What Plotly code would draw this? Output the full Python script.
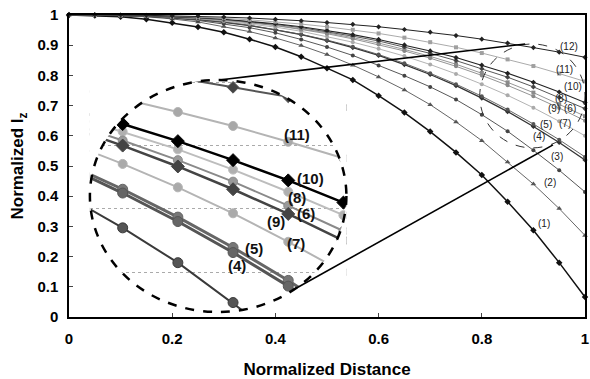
import plotly.graph_objects as go

# ---------------- data ----------------
x_dist = [0.00, 0.05, 0.10, 0.15, 0.20, 0.25, 0.30, 0.35, 0.40, 0.45, 0.50,
          0.55, 0.60, 0.65, 0.70, 0.75, 0.80, 0.85, 0.90, 0.95, 1.00]

iz_1 = [1.000, 0.998, 0.994, 0.986, 0.974, 0.960, 0.943, 0.920, 0.894, 0.862, 0.824,
        0.785, 0.733, 0.677, 0.614, 0.545, 0.470, 0.382, 0.287, 0.180, 0.066]
iz_2 = [1.000, 1.000, 0.998, 0.994, 0.987, 0.977, 0.962, 0.945, 0.924, 0.899, 0.869,
        0.834, 0.795, 0.752, 0.703, 0.646, 0.584, 0.513, 0.440, 0.359, 0.270]
iz_3 = [1.000, 1.000, 0.998, 0.995, 0.990, 0.982, 0.971, 0.958, 0.941, 0.919, 0.894,
        0.866, 0.833, 0.799, 0.762, 0.720, 0.670, 0.615, 0.552, 0.486, 0.414]
iz_4 = [1.000, 1.000, 0.998, 0.996, 0.991, 0.985, 0.976, 0.965, 0.951, 0.935, 0.915,
        0.892, 0.866, 0.836, 0.803, 0.766, 0.725, 0.680, 0.631, 0.578, 0.520]
iz_5 = [1.000, 1.000, 0.998, 0.996, 0.992, 0.985, 0.977, 0.966, 0.952, 0.936, 0.917,
        0.895, 0.869, 0.840, 0.807, 0.771, 0.731, 0.687, 0.639, 0.587, 0.530]
iz_6 = [1.000, 1.000, 0.999, 0.997, 0.994, 0.989, 0.983, 0.976, 0.966, 0.954, 0.941,
        0.925, 0.907, 0.886, 0.863, 0.837, 0.808, 0.777, 0.743, 0.705, 0.665]
iz_7 = [1.000, 1.000, 0.999, 0.997, 0.993, 0.988, 0.980, 0.971, 0.960, 0.946, 0.929,
        0.910, 0.888, 0.864, 0.836, 0.805, 0.771, 0.734, 0.693, 0.648, 0.600]
iz_8 = [1.000, 1.000, 0.999, 0.997, 0.994, 0.990, 0.985, 0.978, 0.969, 0.958, 0.945,
        0.930, 0.914, 0.894, 0.873, 0.849, 0.822, 0.794, 0.762, 0.727, 0.690]
iz_9 = [1.000, 1.000, 0.999, 0.997, 0.994, 0.989, 0.983, 0.975, 0.965, 0.952, 0.938,
        0.921, 0.902, 0.881, 0.857, 0.830, 0.800, 0.767, 0.731, 0.692, 0.650]
iz_10 = [1.000, 1.000, 0.999, 0.997, 0.995, 0.991, 0.986, 0.979, 0.971, 0.961, 0.949,
         0.935, 0.919, 0.901, 0.881, 0.859, 0.834, 0.807, 0.777, 0.745, 0.710]
iz_11 = [1.000, 1.000, 0.999, 0.998, 0.996, 0.993, 0.989, 0.984, 0.978, 0.970, 0.961,
         0.951, 0.939, 0.925, 0.910, 0.893, 0.874, 0.853, 0.831, 0.806, 0.780]
iz_12 = [1.000, 1.000, 1.000, 0.999, 0.997, 0.996, 0.993, 0.990, 0.986, 0.981, 0.975,
         0.969, 0.961, 0.952, 0.943, 0.932, 0.920, 0.907, 0.892, 0.877, 0.860]

curve_labels = ["(1)", "(2)", "(3)", "(4)", "(5)", "(6)",
                "(7)", "(8)", "(9)", "(10)", "(11)", "(12)"]
x_ticks = [0, 0.2, 0.4, 0.6, 0.8, 1.0]

series = {1: iz_1, 2: iz_2, 3: iz_3, 4: iz_4, 5: iz_5, 6: iz_6,
          7: iz_7, 8: iz_8, 9: iz_9, 10: iz_10, 11: iz_11, 12: iz_12}
inset_start = 15  # inset shows x >= 0.75

# ---------------- styles ----------------
main_style = {
    1: ("#111111", 1.5, "diamond", 5),
    2: ("#555555", 0.9, "triangle-up", 5),
    3: ("#444444", 0.9, "circle", 4),
    4: ("#333333", 1.3, "diamond", 4),
    5: ("#555555", 0.9, "circle", 4),
    6: ("#8a8a8a", 0.9, "square", 4),
    7: ("#aaaaaa", 0.9, "circle", 4),
    8: ("#444444", 0.9, "diamond", 4),
    9: ("#888888", 0.9, "circle", 4),
    10: ("#222222", 1.1, "diamond", 4),
    11: ("#a0a0a0", 0.9, "square", 4),
    12: ("#222222", 1.0, "diamond", 4),
}
inset_style = {
    3: ("#3a3a3a", 2.0, "circle", 10, "#555555"),
    4: ("#555555", 3.0, "circle", 10, "#666666"),
    5: ("#666666", 3.0, "circle", 10, "#777777"),
    6: ("#8a8a8a", 2.0, "circle", 9, "#999999"),
    7: ("#b4b4b4", 2.0, "circle", 9, "#aaaaaa"),
    8: ("#bdbdbd", 2.0, "circle", 9, "#b0b0b0"),
    9: ("#444444", 2.5, "diamond", 10, "#444444"),
    10: ("#000000", 2.5, "diamond", 10, "#000000"),
    11: ("#b4b4b4", 2.0, "circle", 9, "#a8a8a8"),
    12: ("#555555", 2.0, "diamond", 9, "#444444"),
}

fig = go.Figure()

# main curves
for k in range(1, 13):
    c, w, sym, sz = main_style[k]
    fig.add_trace(go.Scatter(
        x=x_dist, y=series[k], mode="lines+markers", name=curve_labels[k - 1],
        line=dict(color=c, width=w),
        marker=dict(symbol=sym, size=sz, color=c),
        cliponaxis=False, xaxis="x", yaxis="y", showlegend=False))

# inset (magnified) curves, light ones first
inset_order = [11, 8, 7, 6, 12, 3, 5, 4, 9, 10]
for k in inset_order:
    c, w, sym, sz, mc = inset_style[k]
    fig.add_trace(go.Scatter(
        x=x_dist[inset_start:], y=series[k][inset_start:], mode="lines+markers",
        line=dict(color=c, width=w),
        marker=dict(symbol=sym, size=sz, color=mc, line=dict(color=c, width=1)),
        xaxis="x2", yaxis="y2", showlegend=False))

# ---------------- layout geometry ----------------
bx0, bx1 = 0.0405, 0.5376   # inset box (main-axis units == paper units)
by0, by1 = 0.0166, 0.7848
cx, cy = (bx0 + bx1) / 2, (by0 + by1) / 2
rx, ry = (bx1 - bx0) / 2, (by1 - by0) / 2
kk = 0.5523

mask_path = (
    f"M {bx0},{by0} L {bx1},{by0} L {bx1},{by1} L {bx0},{by1} Z "
    f"M {cx+rx},{cy} "
    f"C {cx+rx},{cy-kk*ry} {cx+kk*rx},{cy-ry} {cx},{cy-ry} "
    f"C {cx-kk*rx},{cy-ry} {cx-rx},{cy-kk*ry} {cx-rx},{cy} "
    f"C {cx-rx},{cy+kk*ry} {cx-kk*rx},{cy+ry} {cx},{cy+ry} "
    f"C {cx+kk*rx},{cy+ry} {cx+rx},{cy+kk*ry} {cx+rx},{cy} Z"
)

shapes = [
    dict(type="path", path=mask_path, xref="x", yref="y", fillcolor="white",
         line=dict(width=0), fillrule="evenodd", layer="above"),
    dict(type="circle", xref="x", yref="y", x0=bx0, x1=bx1, y0=by0, y1=by1,
         line=dict(color="black", width=2.5, dash="dash"), layer="above"),
    dict(type="circle", xref="x", yref="y", x0=0.796, x1=1.0, y0=0.560, y1=0.904,
         line=dict(color="#333333", width=1, dash="dash"), layer="above"),
    dict(type="line", xref="x", yref="y", x0=0.291, y0=0.785, x1=0.884, y1=0.904,
         line=dict(color="black", width=1.6), layer="above"),
    dict(type="line", xref="x", yref="y", x0=0.441, y0=0.096, x1=0.938, y1=0.570,
         line=dict(color="black", width=1.6), layer="above"),
]

main_label_pos = {
    12: (0.969, 0.897), 11: (0.960, 0.818), 10: (0.977, 0.762), 8: (0.954, 0.725),
    9: (0.940, 0.689), 6: (0.971, 0.689), 7: (0.961, 0.642), 5: (0.925, 0.636),
    4: (0.911, 0.599), 3: (0.946, 0.530), 2: (0.933, 0.444), 1: (0.921, 0.311),
}
inset_label_pos = {
    11: (0.441, 0.603), 10: (0.468, 0.460), 8: (0.441, 0.397), 9: (0.401, 0.315),
    6: (0.460, 0.344), 7: (0.439, 0.242), 5: (0.358, 0.228), 4: (0.326, 0.169),
}
annotations = []
for k, (ax, ay) in main_label_pos.items():
    annotations.append(dict(x=ax, y=ay, xref="x", yref="y", text=curve_labels[k - 1],
                            showarrow=False,
                            font=dict(family="Liberation Sans", size=10, color="#222222")))
for k, (ax, ay) in inset_label_pos.items():
    annotations.append(dict(x=ax, y=ay, xref="x", yref="y", text=curve_labels[k - 1],
                            showarrow=False,
                            font=dict(family="Liberation Sans", size=15, color="#111111",
                                      weight="bold")))

tick_font = dict(family="Liberation Sans", size=15, color="black", weight="bold")
title_font = dict(family="Liberation Sans", size=17, color="black", weight="bold")

fig.update_layout(
    width=590, height=379,
    margin=dict(l=69, r=5, t=15, b=62, autoexpand=False),
    paper_bgcolor="white", plot_bgcolor="white",
    showlegend=False,
    shapes=shapes, annotations=annotations,
    xaxis=dict(range=[0, 1], tickvals=x_ticks, ticks="inside", ticklen=4,
               showline=True, mirror=True, linecolor="black", linewidth=1.5,
               showgrid=False, zeroline=False, tickfont=tick_font, automargin=False,
               ticklabelstandoff=7, ticklabeloverflow="allow",
               title=dict(text="Normalized Distance", font=title_font, standoff=19)),
    yaxis=dict(range=[0, 1], dtick=0.1, tick0=0, ticks="inside", ticklen=4,
               showline=True, mirror=True, linecolor="black", linewidth=1.5,
               showgrid=False, zeroline=False, tickfont=tick_font, automargin=False,
               ticklabelstandoff=6, ticklabeloverflow="allow",
               title=dict(text="Normalized I<sub>z</sub>", font=title_font, standoff=9)),
    xaxis2=dict(domain=[bx0, bx1], anchor="y2", range=[0.7703, 1.0027],
                showgrid=False, showticklabels=False, showline=False,
                zeroline=False, ticks=""),
    yaxis2=dict(domain=[by0, by1], anchor="x2", range=[0.5371, 0.9036],
                tick0=0, dtick=0.1, showgrid=True, gridcolor="#aaaaaa",
                griddash="dot", gridwidth=1, showticklabels=False,
                showline=False, zeroline=False, ticks=""),
)

fig.write_html("out.html", config={"displayModeBar": False},
               post_script="document.body.style.margin='0px';document.body.style.overflow='hidden';")
